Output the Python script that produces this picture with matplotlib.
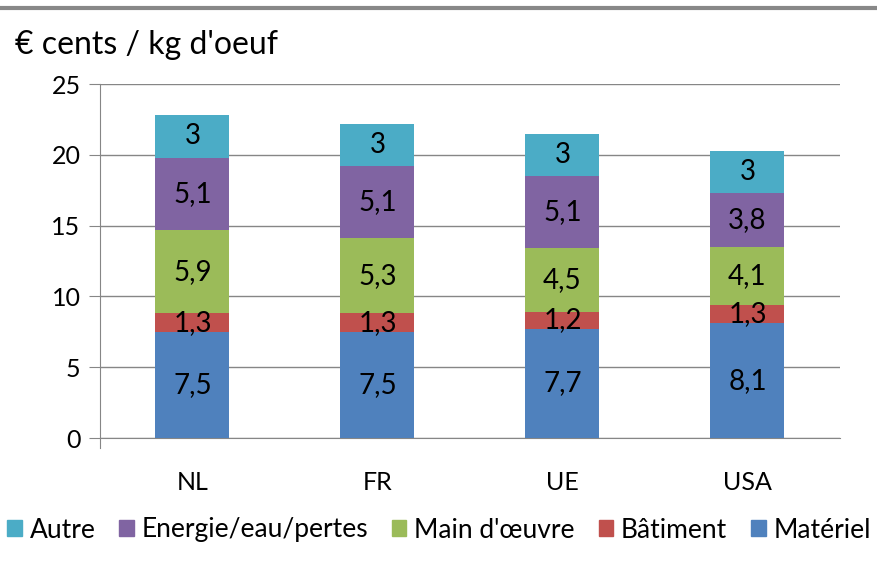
import matplotlib.pyplot as plt
import numpy as np
from matplotlib.patches import Patch

plt.rcParams['font.family'] = ['Lato', 'DejaVu Sans']

countries = ['NL', 'FR', 'UE', 'USA']
materiel = [7.5, 7.5, 7.7, 8.1]
batiment = [1.3, 1.3, 1.2, 1.3]
main_oeuvre = [5.9, 5.3, 4.5, 4.1]
energie = [5.1, 5.1, 5.1, 3.8]
autre = [3, 3, 3, 3]

series = [
    ('Matériel', materiel, '#4F81BD'),
    ('Bâtiment', batiment, '#C0504D'),
    ("Main d'œuvre", main_oeuvre, '#9BBB59'),
    ('Energie/eau/pertes', energie, '#8064A2'),
    ('Autre', autre, '#4BACC6'),
]

fig = plt.figure(figsize=(8.78, 5.71), dpi=100)
ax = fig.add_axes([100 / 878, 1 - 438 / 571, 740 / 878, 354 / 571])

x = np.arange(len(countries))
bottom = np.zeros(len(countries))
for name, vals, color in series:
    vals = np.array(vals, dtype=float)
    ax.bar(x, vals, 0.4, bottom=bottom, color=color, zorder=3)
    for xi, b, v in zip(x, bottom, vals):
        lab = ('%g' % v).replace('.', ',')
        ax.text(xi, b + v / 2, lab, ha='center', va='center', fontsize=20, zorder=4)
    bottom += vals

ax.set_xlim(-0.5, 3.5)
ax.set_ylim(0, 25)
ax.set_yticks(range(0, 26, 5))
ax.yaxis.grid(True, color='#868686', linewidth=1, zorder=0)
ax.set_xticks(x)
ax.set_xticklabels(countries)
ax.tick_params(axis='y', length=8, color='#868686', labelsize=18, pad=6)
ax.tick_params(axis='x', length=0, labelsize=18, pad=24)
for s in ['top', 'right']:
    ax.spines[s].set_visible(False)
ax.spines['left'].set_color('#868686')
ax.spines['bottom'].set_color('#868686')
ax.spines['left'].set_bounds(-0.7, 25)

fig.text(15 / 878, 1 - 45 / 571, "€ cents / kg d'oeuf", fontsize=23, va='center', ha='left')
fig.add_artist(plt.Line2D([0, 1], [1 - 8 / 571, 1 - 8 / 571], color='#888888', linewidth=3))

handles = [Patch(color=c, label=n) for n, _, c in series[::-1]]
fig.legend(handles=handles, loc='center', bbox_to_anchor=(0.5, 1 - 530 / 571), ncol=5,
           frameon=False, fontsize=19, handlelength=0.55, handleheight=0.55,
           handletextpad=0.3, columnspacing=0.9)

fig.savefig('out.png', dpi=100)
